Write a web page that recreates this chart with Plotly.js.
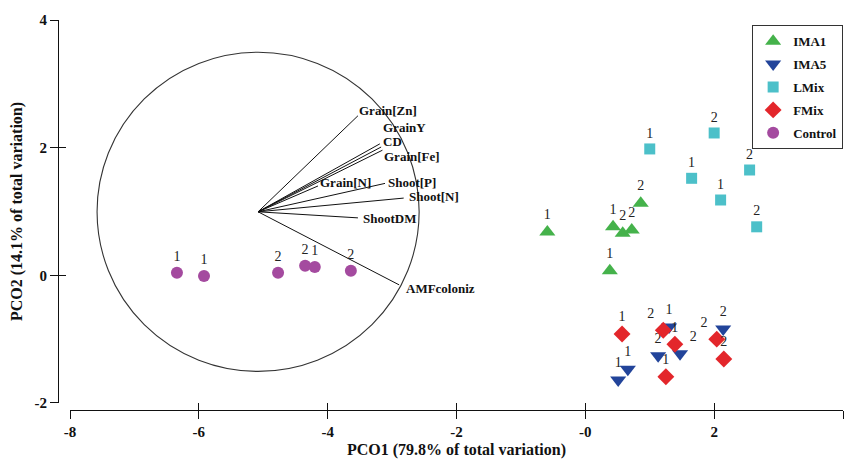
<!DOCTYPE html>
<html>
<head>
<meta charset="utf-8">
<script src="https://cdn.plot.ly/plotly-3.0.1.min.js"></script>
<style>html,body{margin:0;padding:0;background:#fff;}#chart{width:847px;height:471px;}</style>
</head>
<body>
<div id="chart"></div>
<script>
// ---- data ----
const groupNames = ["IMA1", "IMA5", "LMix", "FMix", "Control"];

const ima1X = [-0.59, 0.43, 0.58, 0.72, 0.86, 0.38];
const ima1Y = [0.68, 0.76, 0.66, 0.71, 1.13, 0.07];
const ima1Lab = ["1", "1", "2", "2", "2", "1"];

const ima5X = [1.30, 1.13, 1.47, 0.66, 0.51, 2.14];
const ima5Y = [-0.81, -1.26, -1.23, -1.47, -1.64, -0.84];
const ima5Lab = ["1", "2", "2", "1", "1", "2"];

const lmixX = [1.00, 2.00, 1.65, 2.55, 2.10, 2.66];
const lmixY = [1.98, 2.23, 1.52, 1.65, 1.18, 0.76];
const lmixLab = ["1", "2", "1", "2", "1", "2"];

const fmixX = [0.57, 1.21, 1.39, 1.25, 2.04, 2.15];
const fmixY = [-0.92, -0.86, -1.08, -1.59, -1.00, -1.31];
const fmixLab = ["1", "2", "1", "1", "2", "2"];

const ctrlX = [-6.34, -5.92, -4.77, -4.35, -4.20, -3.64];
const ctrlY = [0.04, -0.01, 0.04, 0.15, 0.13, 0.07];
const ctrlLab = ["1", "1", "2", "2", "1", "2"];

// vector overlay (origin, circle radius, endpoints)
const vecOrigin = [-5.08, 0.995];
const circleRadius = 2.5;
const vecNames = ["Grain[Zn]", "GrainY", "CD", "Grain[Fe]", "Grain[N]", "Shoot[P]", "Shoot[N]", "ShootDM", "AMFcoloniz"];
const vecEndX = [-3.53, -3.19, -3.17, -3.15, -4.15, -3.11, -2.82, -3.53, -2.89];
const vecEndY = [2.50, 2.06, 2.01, 1.96, 1.40, 1.44, 1.21, 0.90, -0.15];

const xTickVals = [-8, -6, -4, -2, 0, 2, 4];
const xTickText = ["-8", "-6", "-4", "-2", "-0", "2", "4"];
const yTickVals = [-2, 0, 2, 4];
const yTickText = ["-2", "0", "2", "4"];

// ---- styles ----
const SERIF = "Liberation Serif, Times New Roman, serif";
const groupStyle = {
  IMA1: {symbol: "triangle-up", color: "#45b24b", size: 14, pos: ["top center","top center","top center","top center","top center","top center"]},
  IMA5: {symbol: "triangle-down", color: "#22449a", size: 14, pos: ["top center","top center","top right","top center","top center","top center"]},
  LMix: {symbol: "square", color: "#4cc0c9", size: 11, pos: ["top center","top center","top center","top center","top center","top center"]},
  FMix: {symbol: "diamond", color: "#e3262b", size: 13, pos: ["top center","top left","top center","top center","top left","top center"]},
  Control: {symbol: "circle", color: "#a44a9f", size: 12, pos: ["top center","top center","top center","top center","top center","top center"]}
};
const labelShift = {
  "Grain[Zn]": [-1, 5], "GrainY": [1, 16], "CD": [0, 6], "Grain[Fe]": [0, -6],
  "Grain[N]": [0, 3], "Shoot[P]": [1, 1], "Shoot[N]": [3, 2], "ShootDM": [3, -1], "AMFcoloniz": [5, -4]
};

const groups = [
  [ima1X, ima1Y, ima1Lab], [ima5X, ima5Y, ima5Lab], [lmixX, lmixY, lmixLab],
  [fmixX, fmixY, fmixLab], [ctrlX, ctrlY, ctrlLab]
];

const traces = [];
// vectors
const vx = [], vy = [];
vecNames.forEach((n, i) => { vx.push(vecOrigin[0], vecEndX[i], null); vy.push(vecOrigin[1], vecEndY[i], null); });
traces.push({x: vx, y: vy, mode: "lines", line: {color: "#111", width: 1}, showlegend: false, hoverinfo: "skip"});

groups.forEach((g, i) => {
  const name = groupNames[i], st = groupStyle[name];
  traces.push({
    x: g[0], y: g[1], text: g[2], name: "<b>" + name + "</b>", legendgroup: name,
    mode: "markers+text", type: "scatter",
    marker: {symbol: st.symbol, color: st.color, size: st.size, line: {width: 0}},
    textposition: st.pos,
    textfont: {family: SERIF, size: 14, color: "#222"}
  });
});
// dummy trace so that overlay axes (crossing ticks) are drawn
traces.push({x: [], y: [], xaxis: "x2", yaxis: "y2", showlegend: false, hoverinfo: "skip"});

const annotations = vecNames.map((n, i) => ({
  x: vecEndX[i], y: vecEndY[i], xref: "x", yref: "y", text: "<b>" + n + "</b>", showarrow: false,
  xanchor: "left", yanchor: "middle", xshift: labelShift[n][0], yshift: labelShift[n][1],
  font: {family: SERIF, size: 13, color: "#111"}
}));

const tickFont = {family: SERIF, size: 15, color: "#111"};
const xDomain = [0.0153, 1];
const yDomain = [0.018, 1];

const layout = {
  width: 847, height: 471,
  margin: {l: 58, r: 4, t: 20, b: 61},
  paper_bgcolor: "#fff", plot_bgcolor: "rgba(0,0,0,0)",
  showlegend: true,
  xaxis: {
    range: [-8, 4], domain: xDomain, anchor: "free", position: 0,
    tickvals: xTickVals, ticktext: xTickText.map(t => "<b>" + t + "</b>"), ticks: "outside", ticklen: 8, tickwidth: 1, tickcolor: "#111",
    showline: true, linecolor: "#111", linewidth: 1, showgrid: false, zeroline: false,
    tickfont: tickFont,
    title: {text: "<b>PCO1 (79.8% of total variation)</b>", font: {family: SERIF, size: 16, color: "#111"}, standoff: 4}
  },
  yaxis: {
    range: [-2, 4], domain: yDomain, anchor: "free", position: 0,
    tickvals: yTickVals, ticktext: yTickText.map(t => "<b>" + t + "</b>"), ticks: "outside", ticklen: 8, tickwidth: 1, tickcolor: "#111",
    showline: true, linecolor: "#111", linewidth: 1, showgrid: false, zeroline: false,
    tickfont: tickFont,
    title: {text: "<b>PCO2 (14.1% of total variation)</b>", font: {family: SERIF, size: 16, color: "#111"}, standoff: 6}
  },
  xaxis2: {
    overlaying: "x", range: [-8, 4], anchor: "free", position: 0,
    tickvals: xTickVals, ticks: "inside", ticklen: 7, tickwidth: 1, tickcolor: "#111",
    showticklabels: false, showline: false, showgrid: false, zeroline: false
  },
  yaxis2: {
    overlaying: "y", range: [-2, 4], anchor: "free", position: 0,
    tickvals: yTickVals, ticks: "inside", ticklen: 7, tickwidth: 1, tickcolor: "#111",
    showticklabels: false, showline: false, showgrid: false, zeroline: false
  },
  shapes: [{
    type: "circle", xref: "x", yref: "y",
    x0: vecOrigin[0] - circleRadius, x1: vecOrigin[0] + circleRadius,
    y0: vecOrigin[1] - circleRadius, y1: vecOrigin[1] + circleRadius,
    line: {color: "#333", width: 1.1}, layer: "below"
  }],
  annotations: annotations,
  legend: {
    x: 0.884, y: 0.987, xanchor: "left", yanchor: "top",
    bgcolor: "#fff", bordercolor: "#333", borderwidth: 1.2,
    font: {family: SERIF, size: 13, color: "#111"},
    tracegroupgap: 3, itemwidth: 30
  }
};

Plotly.newPlot("chart", traces, layout, {staticPlot: true, displayModeBar: false});
</script>
</body>
</html>
